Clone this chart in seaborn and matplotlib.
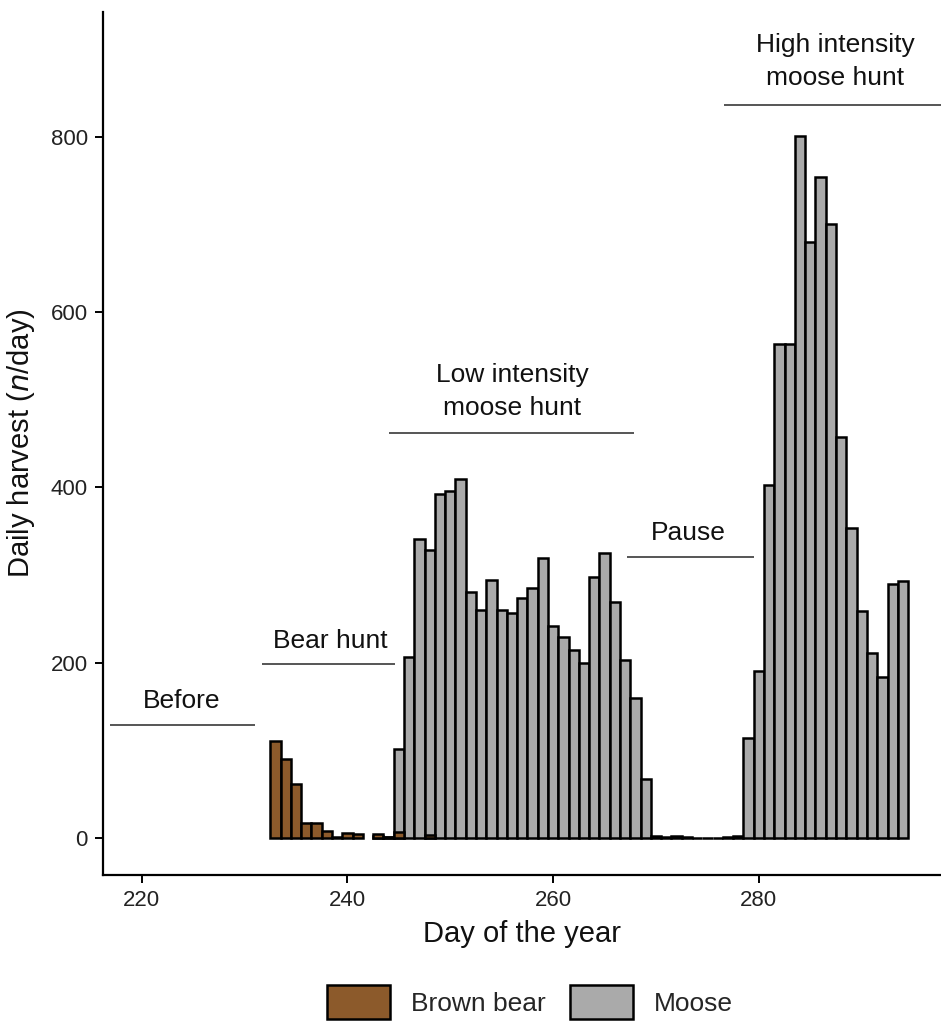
import matplotlib
matplotlib.use("Agg")
import matplotlib.pyplot as plt
from matplotlib.patches import Patch
import numpy as np
import pandas as pd
import seaborn as sns

# ---- data ----
bear_days = [233, 234, 235, 236, 237, 238, 239, 240, 241, 243, 244, 245, 248]
bear_n = [110, 90, 61, 17, 17, 8, 1, 5, 4, 4, 1, 6, 3]

moose_days = list(range(243, 295))
moose_n = [2, 1, 101, 206, 341, 329, 392, 396, 409, 281,
           260, 294, 260, 257, 274, 285, 319, 242, 229, 214,
           200, 298, 325, 269, 203, 160, 67, 2, 1, 2,
           1, 0, 0, 0, 1, 2, 114, 190, 403, 564,
           564, 801, 680, 754, 701, 458, 354, 259, 211, 184,
           290, 293]

species = ["Brown bear", "Moose"]
colors = ["#8C5A2B", "#AAAAAA"]

x_ticks = [220, 240, 260, 280]
y_ticks = [0, 200, 400, 600, 800]

# period annotations: label lines, (x0, x1, y) of the rule, text position
periods = ["Before", "Bear hunt", "Low intensity\nmoose hunt", "Pause", "High intensity\nmoose hunt"]
period_x0 = [216.9, 231.7, 244.05, 267.2, 276.6]
period_x1 = [231.0, 244.6, 267.9, 279.5, 297.8]
period_y = [129, 198, 462, 320, 836]
period_tx = [223.9, 238.3, 256.0, 273.1, 287.4]
period_ty = [148, 217, 482, 340, 859]   # baseline of the lowest text line

# ---- style ----
sns.set_style("ticks")
plt.rcParams["font.family"] = ["Liberation Sans", "DejaVu Sans"]

fig = plt.figure(figsize=(9.41, 10.25), dpi=100)
ax = fig.add_axes([103 / 941, 1 - 875 / 1025, (941 - 103) / 941, (875 - 11.7) / 1025])

moose_df = pd.DataFrame({"day": moose_days, "n": moose_n})
bear_df = pd.DataFrame({"day": bear_days, "n": bear_n})

sns.barplot(data=moose_df, x="day", y="n", native_scale=True, width=1,
            color=colors[1], saturation=1, edgecolor="black", linewidth=1.8,
            errorbar=None, ax=ax)
sns.barplot(data=bear_df, x="day", y="n", native_scale=True, width=1,
            color=colors[0], saturation=1, edgecolor="black", linewidth=1.8,
            errorbar=None, ax=ax)

line_col = "#555555"
for lab, x0, x1, y, tx, ty in zip(periods, period_x0, period_x1, period_y, period_tx, period_ty):
    ax.plot([x0, x1], [y, y], color=line_col, lw=1.4, solid_capstyle="butt", clip_on=False)
    lines = lab.split("\n")
    step = 38  # data units between baselines
    for i, ln in enumerate(reversed(lines)):
        ax.text(tx, ty + i * step, ln, ha="center", va="baseline", fontsize=19, color="#111111")

ax.set_xlim(216.24, 297.7)
ax.set_ylim(-42.6, 943)
ax.set_xticks(x_ticks)
ax.set_xticklabels([str(t) for t in x_ticks])
ax.set_yticks(y_ticks)
ax.set_yticklabels([str(t) for t in y_ticks])
ax.tick_params(axis="both", labelsize=16, length=6, width=1.4, color="black",
               labelcolor="#222222", pad=5, direction="out")

for s in ["top", "right"]:
    ax.spines[s].set_visible(False)
for s in ["left", "bottom"]:
    ax.spines[s].set_linewidth(1.6)
    ax.spines[s].set_color("black")

ax.set_xlabel("Day of the year", fontsize=21, labelpad=6, color="#111111")
ax.set_ylabel(r"Daily harvest ($\it{n}$/day)", fontsize=21, labelpad=10, color="#111111")

handles = [Patch(facecolor=c, edgecolor="black", linewidth=1.8, label=s) for s, c in zip(species, colors)]
fig.legend(handles=handles, loc="center", bbox_to_anchor=(530 / 941, 1 - 1002 / 1025),
           ncol=2, frameon=False, fontsize=19, handlelength=2.4, handleheight=1.6,
           handletextpad=0.8, columnspacing=0.9)

fig.savefig("out.png", dpi=100)
